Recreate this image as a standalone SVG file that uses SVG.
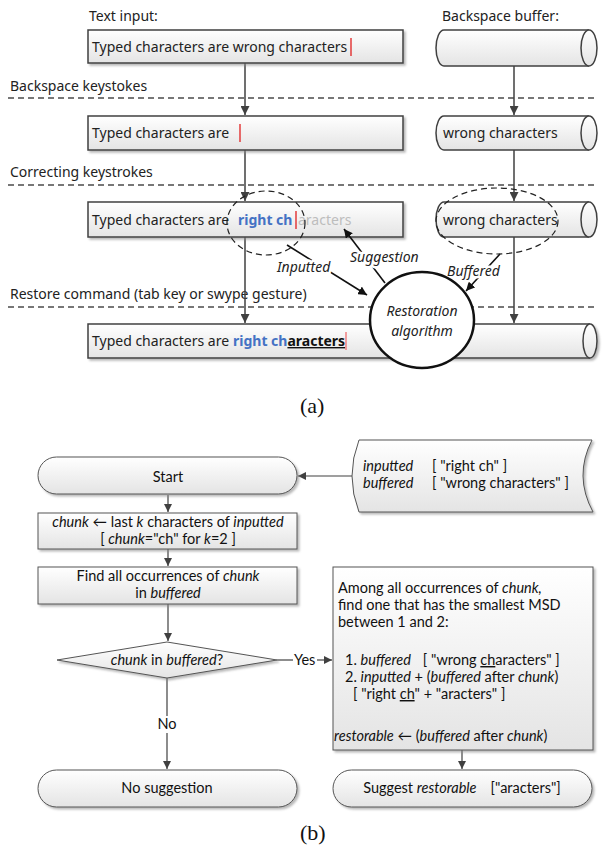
<svg xmlns="http://www.w3.org/2000/svg" width="603" height="856" viewBox="0 0 603 856">
<defs>
<linearGradient id="g" x1="0" y1="0" x2="0" y2="1"><stop offset="0" stop-color="#ffffff"/><stop offset="1" stop-color="#e4e4e4"/></linearGradient>
<filter id="sh" x="-5%" y="-20%" width="115%" height="150%"><feDropShadow dx="2" dy="2" stdDeviation="1" flood-color="#888" flood-opacity="0.6"/></filter>
<marker id="ah" viewBox="0 0 10 10" refX="10" refY="5" markerWidth="6" markerHeight="6" orient="auto"><path d="M0,0 L10,5 L0,10 z" fill="#404040"/></marker>
<marker id="ahk" viewBox="0 0 10 10" refX="10" refY="5" markerWidth="5.5" markerHeight="5.5" orient="auto"><path d="M0,0 L10,5 L0,10 z" fill="#111"/></marker>
<marker id="ahb" viewBox="0 0 10 10" refX="10" refY="5" markerWidth="7" markerHeight="7" orient="auto"><path d="M0,0 L10,5 L0,10 z" fill="#404040"/></marker>
</defs>
<style>
.ta{font-family:"Noto Sans","Open Sans",sans-serif;font-size:14px;fill:#222}
.tb{font-family:Lato,"Open Sans",sans-serif;font-size:14.5px;fill:#111}
.it{font-style:italic}
.box{fill:url(#g);stroke:#404040;stroke-width:1.5;filter:url(#sh)}
.boxb{fill:url(#g);stroke:#555;stroke-width:1;filter:url(#sh)}
.cyl{fill:url(#g);stroke:#404040;stroke-width:1.5}
.dash{stroke:#777;stroke-width:2;stroke-dasharray:6 4;fill:none}
.dell{fill:none;stroke:#222;stroke-width:1.2;stroke-dasharray:6 4}
.arr{stroke:#404040;stroke-width:1.5;fill:none;marker-end:url(#ah)}
.arrk{stroke:#111;stroke-width:1.6;fill:none;marker-end:url(#ahk)}
.arrb{stroke:#404040;stroke-width:1.2;fill:none;marker-end:url(#ahb)}
.ln{stroke:#404040;stroke-width:1.2;fill:none}
.ko{paint-order:stroke;stroke:#fff;stroke-width:5px;stroke-linejoin:round}
.blue{fill:#4472c4;font-weight:bold}
.cur{stroke:#e02020;stroke-width:1.3}
.cap{font-family:"Liberation Serif",serif;font-size:22px;fill:#111}
</style>

<!-- part (a) section labels and separators -->
<g id="labels-a">
<text class="ta" x="89" y="21">Text input:</text>
<text class="ta" x="442" y="21">Backspace buffer:</text>
<text class="ta" x="10" y="91">Backspace keystokes</text>
<text class="ta" x="10" y="177">Correcting keystrokes</text>
<text class="ta" x="10" y="299">Restore command (tab key or swype gesture)</text>
<line class="dash" x1="8" y1="98" x2="598" y2="98"/>
<line class="dash" x1="8" y1="185" x2="598" y2="185"/>
<line class="dash" x1="8" y1="307" x2="598" y2="307"/>
</g>

<g id="connectors-a">
<line class="arr" x1="245" y1="63" x2="245" y2="115"/>
<line class="arr" x1="514" y1="66" x2="514" y2="115"/>
<line class="arr" x1="245" y1="150" x2="245" y2="201"/>
<line class="arr" x1="514" y1="150" x2="514" y2="201"/>
<line class="arr" x1="245" y1="237" x2="245" y2="323"/>
<line class="arr" x1="514" y1="237" x2="514" y2="323"/>
</g>

<g id="text1">
<rect class="box" x="88" y="30" width="315" height="33"/>
<text class="ta" x="92" y="52">Typed characters are wrong characters</text>
<line class="cur" x1="351" y1="38" x2="351" y2="56"/>
</g>
<g id="buffer1">
<path class="cyl" d="M444 30 H589 A8 18 0 0 1 589 66 H444 A8 18 0 0 1 444 30 Z"/>
<path class="cyl" d="M589 30 A8 18 0 0 0 589 66"/>
</g>

<g id="text2">
<rect class="box" x="88" y="116" width="315" height="34"/>
<text class="ta" x="92" y="138">Typed characters are</text>
<line class="cur" x1="240" y1="124" x2="240" y2="142"/>
</g>
<g id="buffer2">
<path class="cyl" d="M444 116 H589 A8 17 0 0 1 589 150 H444 A8 17 0 0 1 444 116 Z"/>
<path class="cyl" d="M589 116 A8 17 0 0 0 589 150"/>
<text class="ta" x="443" y="138">wrong characters</text>
</g>

<g id="text3">
<rect class="box" x="88" y="202" width="315" height="35"/>
<text class="ta" x="92" y="225">Typed characters are<tspan x="238" class="blue">right ch</tspan><tspan x="298" fill="#bdbdbd">aracters</tspan></text>
<line class="cur" x1="296" y1="211" x2="296" y2="229"/>
</g>
<g id="buffer3">
<path class="cyl" d="M444 202 H589 A8 17.5 0 0 1 589 237 H444 A8 17.5 0 0 1 444 202 Z"/>
<path class="cyl" d="M589 202 A8 17.5 0 0 0 589 237"/>
<text class="ta" x="443" y="225">wrong characters</text>
</g>

<g id="text4">
<path class="box" d="M88 324 H590 A7 17 0 0 1 590 358 H88 Z"/>
<path class="cyl" d="M590 324 A7 17 0 0 0 590 358"/>
<text class="ta" x="92" y="346">Typed characters are<tspan x="233" class="blue">right ch</tspan><tspan font-weight="bold" fill="#111" text-decoration="underline">aracters</tspan></text>
<line x1="346" y1="332" x2="346" y2="350" stroke="#f08080" stroke-width="1.5"/>
</g>

<g id="highlights">
<ellipse class="dell" cx="266" cy="223" rx="39" ry="32"/>
<ellipse class="dell" cx="497" cy="221" rx="61" ry="33"/>
</g>

<g id="connectors-algo">
<line class="arrk" x1="287" y1="245" x2="367" y2="295"/>
<line class="arrk" x1="385" y1="283" x2="344" y2="229"/>
<line class="arrk" x1="500" y1="254" x2="466" y2="291"/>
<text class="ta it ko" x="277" y="272">Inputted</text>
<text class="ta it ko" x="350" y="262">Suggestion</text>
<text class="ta it ko" x="447" y="276">Buffered</text>
</g>

<g id="algorithm">
<ellipse cx="422" cy="320" rx="52" ry="48" fill="#fff" stroke="#111" stroke-width="2.5"/>
<text class="ta it" x="422" y="316" text-anchor="middle" font-size="15">Restoration</text>
<text class="ta it" x="422" y="336" text-anchor="middle" font-size="15">algorithm</text>
</g>

<text class="cap" x="300" y="413">(a)</text>

<!-- part (b) -->
<g id="connectors-b">
<line class="arrb" x1="352" y1="476" x2="298" y2="476"/>
<line class="arrb" x1="168" y1="495" x2="168" y2="512"/>
<line class="arrb" x1="168" y1="549" x2="168" y2="566"/>
<line class="arrb" x1="168" y1="604" x2="168" y2="641"/>
<line class="ln" x1="277" y1="660" x2="293" y2="660"/>
<line class="arrb" x1="317" y1="660" x2="332" y2="660"/>
<text class="tb" x="294" y="665">Yes</text>
<line class="ln" x1="167" y1="678" x2="167" y2="716"/>
<line class="arrb" x1="167" y1="733" x2="167" y2="769"/>
<text class="tb" x="167" y="729" text-anchor="middle">No</text>
<line class="arrb" x1="462" y1="750" x2="462" y2="769"/>
</g>

<g id="start">
<rect class="boxb" x="38" y="457" width="259" height="37" rx="18.5" ry="18.5"/>
<text class="tb" x="168" y="482" text-anchor="middle">Start</text>
</g>

<g id="data">
<path class="boxb" d="M359 440 H592 Q573.5 476 593 512 H359 Q345 476 359 440 Z"/>
<text class="tb" x="363" y="471"><tspan class="it">inputted</tspan><tspan x="432">[ "right ch" ]</tspan></text>
<text class="tb" x="363" y="488"><tspan class="it">buffered</tspan><tspan x="432">[ "wrong characters" ]</tspan></text>
</g>

<g id="chunk">
<rect class="boxb" x="38" y="513" width="259" height="36"/>
<text class="tb" x="168" y="527" text-anchor="middle"><tspan class="it">chunk</tspan> ←  last <tspan class="it">k</tspan> characters of <tspan class="it">inputted</tspan></text>
<text class="tb" x="168" y="544" text-anchor="middle">[ <tspan class="it">chunk</tspan>="ch" for <tspan class="it">k</tspan>=2 ]</text>
</g>

<g id="find">
<rect class="boxb" x="38" y="567" width="259" height="37"/>
<text class="tb" x="168" y="581" text-anchor="middle">Find all occurrences of <tspan class="it">chunk</tspan></text>
<text class="tb" x="168" y="598" text-anchor="middle">in <tspan class="it">buffered</tspan></text>
</g>

<g id="decision">
<polygon class="boxb" points="167,642 277,660 167,678 57,660"/>
<text class="tb" x="167" y="665" text-anchor="middle"><tspan class="it">chunk</tspan> in <tspan class="it">buffered</tspan>?</text>
</g>

<g id="msd">
<rect class="boxb" x="333" y="567" width="260" height="183"/>
<text class="tb" x="338" y="593">Among all occurrences of <tspan class="it">chunk,</tspan></text>
<text class="tb" x="338" y="610">find one that has the smallest MSD</text>
<text class="tb" x="338" y="627">between 1 and 2:</text>
<text class="tb" x="345" y="665">1. <tspan class="it">buffered</tspan><tspan dx="12">[ "wrong </tspan><tspan text-decoration="underline">ch</tspan>aracters" ]</text>
<text class="tb" x="345" y="682">2. <tspan class="it">inputted</tspan> + (<tspan class="it">buffered</tspan> after <tspan class="it">chunk</tspan>)</text>
<text class="tb" x="353" y="699">[ "right <tspan text-decoration="underline">ch</tspan>" + "aracters" ]</text>
<text class="tb" x="334" y="741"><tspan class="it">restorable</tspan> ← (<tspan class="it">buffered</tspan> after <tspan class="it">chunk</tspan>)</text>
</g>

<g id="nosuggestion">
<rect class="boxb" x="38" y="770" width="259" height="37" rx="18.5" ry="18.5"/>
<text class="tb" x="167" y="793" text-anchor="middle">No suggestion</text>
</g>

<g id="suggest">
<rect class="boxb" x="333" y="770" width="259" height="37" rx="18.5" ry="18.5"/>
<text class="tb" x="462" y="793" text-anchor="middle">Suggest <tspan class="it">restorable</tspan><tspan dx="14">["aracters"]</tspan></text>
</g>

<text class="cap" x="300" y="840">(b)</text>
</svg>
